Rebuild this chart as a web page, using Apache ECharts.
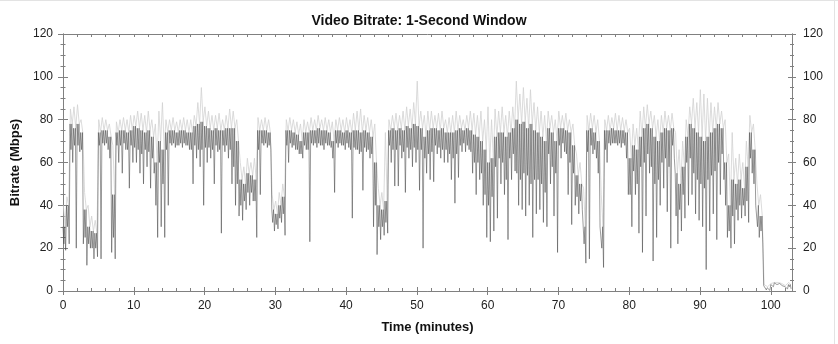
<!DOCTYPE html>
<html>
<head>
<meta charset="utf-8">
<script src="https://cdn.jsdelivr.net/npm/echarts@6/dist/echarts.min.js"></script>
<style>
html,body{margin:0;padding:0;background:#fff;}
#c{width:838px;height:344px;}
</style>
</head>
<body>
<div id="c"></div>
<script>
// 0.5-minute bins from 0 to 103 minutes
const binMinutes = 0.5;
const xTickLabels = [0, 10, 20, 30, 40, 50, 60, 70, 80, 90, 100];
const yTickLabels = [0, 20, 40, 60, 80, 100, 120];

// upper edge of the light fuzz per bin (Mbps)
const peakRate = [
  40,44,85,86,87,80,46,40,35,33,
  80,81,80,78,68,79,80,81,80,82,
  82,84,83,82,84,80,78,84,88,80,
  80,81,79,80,81,80,80,82,88,95,
  86,84,82,82,83,80,82,85,84,80,
  60,58,62,60,62,81,80,81,80,45,
  42,46,50,80,81,80,79,78,80,79,
  81,80,82,80,81,80,79,80,81,80,
  81,80,83,84,85,82,81,80,78,48,
  46,74,80,82,83,82,84,86,85,88,
  98,84,82,84,84,82,83,84,80,81,
  82,84,82,80,82,84,83,82,84,80,
  86,80,85,84,86,82,84,86,98,92,
  95,90,94,88,86,84,82,84,82,80,
  84,82,83,80,78,64,60,48,82,83,
  82,80,45,80,82,81,83,82,81,80,
  76,78,76,84,86,87,84,82,80,82,
  84,82,83,74,66,70,80,86,90,88,
  94,92,90,88,86,88,84,80,64,74,
  62,64,60,70,82,78,50,45,3,2,
  3.5,4,4,3.5,2.5,4
];

// top of the dense dark band per bin (Mbps)
const coreRate = [
  30,40,78,76,78,74,38,30,28,27,
  74,75,75,72,45,74,75,75,74,75,
  77,76,75,74,75,72,60,70,66,74,
  75,75,74,75,75,74,74,77,78,79,
  77,76,75,76,75,75,76,76,76,70,
  52,50,55,54,52,75,75,75,74,38,
  36,40,44,75,75,74,73,70,74,74,
  75,75,76,75,75,74,70,75,75,74,
  75,74,75,75,74,75,74,72,60,40,
  38,42,75,76,75,76,75,77,76,78,
  77,76,72,75,76,76,75,76,74,74,
  74,75,76,75,76,75,73,72,70,66,
  60,62,72,74,74,72,74,76,80,78,
  79,76,78,75,74,72,70,76,74,70,
  76,76,75,74,68,54,50,30,75,76,
  74,70,30,75,75,76,75,75,75,74,
  62,68,66,72,76,78,76,72,70,74,
  76,75,76,55,50,58,72,78,76,74,
  72,70,72,74,76,78,76,60,40,52,
  50,52,48,58,74,66,40,35,2.5,1.5,
  3,3.8,3.5,3,2,3
];

// bottom of the dense dark band per bin (Mbps)
const floorRate = [
  22,30,66,68,68,66,25,22,20,20,
  68,69,69,62,25,68,68,69,66,68,
  67,66,64,66,65,62,40,60,50,66,
  69,69,68,69,69,68,66,68,66,66,
  67,67,66,68,66,68,68,66,58,50,
  40,42,46,46,42,66,69,69,68,32,
  31,34,36,68,69,68,66,64,68,66,
  69,69,69,68,69,68,62,69,69,68,
  69,66,67,66,65,67,66,64,40,30,
  30,32,68,66,66,68,65,67,66,67,
  66,66,62,64,65,68,67,66,66,64,
  62,64,68,69,68,65,60,60,55,45,
  40,44,58,62,60,52,62,64,55,52,
  55,54,50,52,52,50,46,64,58,55,
  68,69,64,60,55,44,42,22,65,68,
  66,55,20,66,69,69,69,69,69,62,
  45,56,50,58,60,64,58,50,52,60,
  62,58,68,35,38,45,60,62,55,52,
  50,48,52,54,56,60,64,40,28,35,
  38,40,40,42,62,50,30,28,2,1,
  2.5,3.5,3.2,2.5,1.5,2
];

// lowest dip per bin (Mbps)
const dipRate = [
  19,22,60,20,65,22,12,20,15,16,
  15,68,66,18,15,60,55,66,48,60,
  60,55,50,58,48,55,25,30,25,40,
  68,67,68,67,68,66,50,62,58,40,
  60,62,50,65,27,65,62,50,40,35,
  33,38,40,42,25,45,68,67,66,28,
  29,32,26,60,67,66,64,62,66,23,
  68,67,68,66,68,67,46,67,68,66,
  67,34,66,64,47,65,62,30,17,24,
  26,27,60,49,49,62,46,62,58,60,
  47,20,55,52,51,64,62,60,60,52,
  41,53,65,65,66,55,45,52,40,25,
  23,28,34,50,45,24,52,56,40,38,
  35,40,25,36,38,32,30,50,35,18,
  62,65,45,31,40,36,38,13,15,64,
  62,30,11,60,68,69,68,67,68,45,
  30,45,27,18,35,55,14,25,40,48,
  37,20,62,22,28,34,40,45,36,33,
  30,10,28,36,24,45,52,25,20,22,
  33,34,35,32,55,40,25,22,0.5,0.3,
  2,3,3,2,1,1
];

const darkData = [];
const lightData = [];
for (let i = 0; i < coreRate.length; i++) {
  const t = i * binMinutes;
  darkData.push([t, coreRate[i]]);
  darkData.push([t + binMinutes * 0.25, floorRate[i]]);
  darkData.push([t + binMinutes * 0.5, coreRate[i]]);
  darkData.push([t + binMinutes * 0.75, dipRate[i]]);
  lightData.push([t + binMinutes * 0.1, peakRate[i]]);
  lightData.push([t + binMinutes * 0.6, coreRate[i]]);
}

const axisGray = '#808080';
const fontFam = 'Liberation Sans, Arial, sans-serif';
const labelStyle = {color: '#222', fontSize: 12, fontFamily: fontFam};

function xAx(opts) {
  return Object.assign({
    type: 'value', min: 0, max: 103, interval: 10,
    splitLine: {show: false},
    axisLine: {show: true, onZero: false, lineStyle: {color: axisGray, width: 1}},
  }, opts);
}
function yAx(opts) {
  return Object.assign({
    type: 'value', min: 0, max: 120, interval: 20,
    splitLine: {show: false},
    axisLine: {show: true, onZero: false, lineStyle: {color: axisGray, width: 1}},
  }, opts);
}

const chart = echarts.init(document.getElementById('c'), null, {renderer: 'canvas'});
chart.setOption({
  animation: false,
  backgroundColor: '#ffffff',
  title: {
    text: 'Video Bitrate: 1-Second Window',
    left: 'center', top: 9,
    textStyle: {fontSize: 14, fontWeight: 'bold', color: '#111', fontFamily: fontFam}
  },
  grid: {left: 63, right: 46, top: 34, bottom: 53, containLabel: false},
  xAxis: [
    xAx({
      position: 'bottom',
      name: 'Time (minutes)', nameLocation: 'middle', nameGap: 30,
      nameTextStyle: {fontSize: 13, fontWeight: 'bold', color: '#111', fontFamily: fontFam},
      axisTick: {show: true, inside: false, length: 4, lineStyle: {color: axisGray}},
      minorTick: {show: false},
      axisLabel: Object.assign({margin: 9, showMaxLabel: false,
        formatter: v => (xTickLabels.indexOf(v) >= 0 ? String(v) : '')}, labelStyle)
    }),
    xAx({
      position: 'bottom',
      axisTick: {show: true, inside: true, length: 4, lineStyle: {color: axisGray}},
      minorTick: {show: true, splitNumber: 5, length: 3, lineStyle: {color: axisGray}},
      axisLabel: {show: false}
    }),
    xAx({
      position: 'top',
      axisTick: {show: true, inside: true, length: 3, lineStyle: {color: axisGray}},
      minorTick: {show: true, splitNumber: 5, length: 3, lineStyle: {color: axisGray}},
      axisLabel: {show: false}
    })
  ],
  yAxis: [
    yAx({
      position: 'left',
      name: 'Bitrate (Mbps)', nameLocation: 'middle', nameGap: 41, nameRotate: 90,
      nameTextStyle: {fontSize: 13, fontWeight: 'bold', color: '#111', fontFamily: fontFam},
      axisTick: {show: true, inside: false, length: 5, lineStyle: {color: axisGray}},
      minorTick: {show: true, splitNumber: 4, length: 2.5, lineStyle: {color: axisGray}},
      axisLabel: Object.assign({margin: 10,
        formatter: v => (yTickLabels.indexOf(v) >= 0 ? String(v) : '')}, labelStyle)
    }),
    yAx({
      position: 'left',
      axisTick: {show: true, inside: true, length: 5, lineStyle: {color: axisGray}},
      minorTick: {show: true, splitNumber: 4, length: 2.5, lineStyle: {color: axisGray}},
      axisLabel: {show: false}
    }),
    yAx({
      position: 'right',
      axisTick: {show: true, inside: false, length: 4, lineStyle: {color: axisGray}},
      minorTick: {show: true, splitNumber: 4, length: 2, lineStyle: {color: axisGray}},
      axisLabel: Object.assign({margin: 11,
        formatter: v => (yTickLabels.indexOf(v) >= 0 ? String(v) : '')}, labelStyle)
    }),
    yAx({
      position: 'right',
      axisTick: {show: true, inside: true, length: 4, lineStyle: {color: axisGray}},
      minorTick: {show: true, splitNumber: 4, length: 2, lineStyle: {color: axisGray}},
      axisLabel: {show: false}
    })
  ],
  series: [
    {
      name: 'fuzz', type: 'line', xAxisIndex: 0, yAxisIndex: 0,
      data: lightData, showSymbol: false, symbol: 'none', silent: true,
      lineStyle: {color: '#d2d2d2', width: 0.8}, z: 2
    },
    {
      name: 'bitrate', type: 'line', xAxisIndex: 0, yAxisIndex: 0,
      data: darkData, showSymbol: false, symbol: 'none', silent: true,
      lineStyle: {color: 'rgba(70,70,70,0.68)', width: 0.8}, z: 3
    }
  ],
  graphic: [
    {type: 'line', shape: {x1: 0, y1: 0.5, x2: 838, y2: 0.5}, style: {stroke: '#e3e3e3', lineWidth: 1}, silent: true},
    {type: 'line', shape: {x1: 834.5, y1: 0, x2: 834.5, y2: 344}, style: {stroke: '#e3e3e3', lineWidth: 1}, silent: true}
  ]
});
</script>
</body>
</html>
